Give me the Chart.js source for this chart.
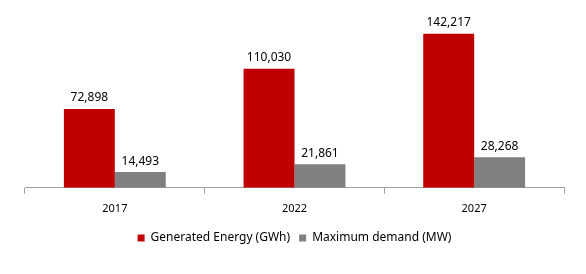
<!DOCTYPE html>
<html>
<head>
<meta charset="utf-8">
<script src="https://cdn.jsdelivr.net/npm/chart.js@4/dist/chart.umd.min.js"></script>
<style>
    html, body { margin: 0; padding: 0; background: #ffffff; }
    #wrap { width: 586px; height: 274px; position: relative; }
</style>
</head>
<body>
<div id="wrap"><canvas id="energyChart"></canvas></div>
<script>
const years = ['2017', '2022', '2027'];
const generatedEnergy = [72898, 110030, 142217];
const maximumDemand = [14493, 21861, 28268];

// draws the value above each bar
const barValueLabels = {
    id: 'barValueLabels',
    afterDatasetsDraw(chart) {
        const ctx = chart.ctx;
        ctx.save();
        ctx.font = '12px "Noto Sans", sans-serif';
        ctx.fillStyle = '#000000';
        ctx.textAlign = 'center';
        ctx.textBaseline = 'bottom';
        chart.data.datasets.forEach(function(ds, i) {
            chart.getDatasetMeta(i).data.forEach(function(bar, j) {
                ctx.fillText(ds.data[j].toLocaleString('en-US'), bar.x, bar.y - 5);
            });
        });
        ctx.restore();
    }
};

document.addEventListener('DOMContentLoaded', function() {
    const ctx = document.getElementById('energyChart').getContext('2d');
    new Chart(ctx, {
        type: 'bar',
        data: {
            labels: years,
            datasets: [{
                label: 'Generated Energy (GWh)',
                data: generatedEnergy,
                backgroundColor: '#C00000',
                borderWidth: 0
            }, {
                label: 'Maximum demand (MW)',
                data: maximumDemand,
                backgroundColor: '#808080',
                borderWidth: 0
            }]
        },
        options: {
            responsive: true,
            maintainAspectRatio: false,
            animation: false,
            categoryPercentage: 0.567,
            barPercentage: 1,
            layout: {
                padding: { left: 25, right: 22, top: 10, bottom: 20 }
            },
            scales: {
                y: {
                    display: false,
                    min: 0,
                    max: 164250
                },
                x: {
                    grid: {
                        drawOnChartArea: false,
                        color: '#a0a0a0',
                        tickLength: 6
                    },
                    border: { color: '#a0a0a0' },
                    ticks: {
                        color: '#000000',
                        padding: 8,
                        font: { family: '"Noto Sans", sans-serif', size: 11 }
                    }
                }
            },
            plugins: {
                legend: {
                    position: 'bottom',
                    labels: {
                        boxWidth: 7,
                        boxHeight: 7,
                        padding: 9,
                        color: '#000000',
                        font: { family: '"Noto Sans", sans-serif', size: 12 }
                    }
                },
                tooltip: { enabled: false }
            }
        },
        plugins: [barValueLabels]
    });
});
</script>
</body>
</html>
